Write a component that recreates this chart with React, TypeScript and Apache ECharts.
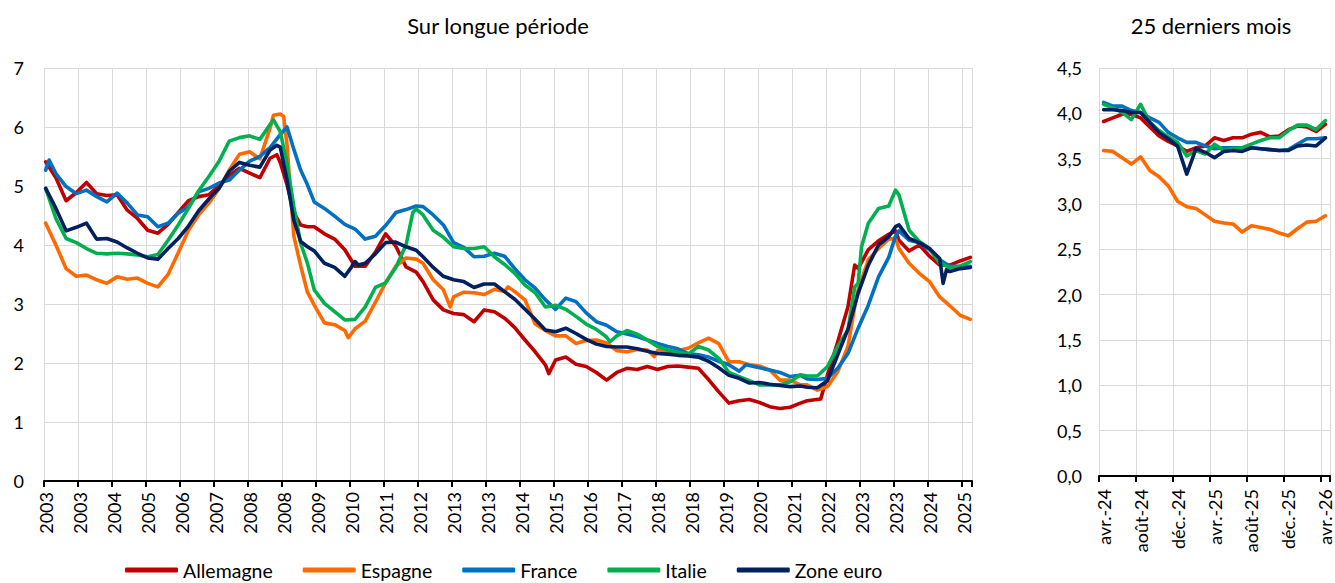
import React, { useEffect, useRef } from "react";
import * as echarts from "echarts";

const FONT = "Lato";

const seriesNames = ["Allemagne", "Espagne", "France", "Italie", "Zone euro"];
const seriesColors = ["#C00000", "#FF6A00", "#0070C0", "#00B050", "#002060"];

// Long period: monthly categories from Jan 2003 (index 0) to Sep 2025 (index 272)
const longStartYear = 2003;
const longMonthCount = 273;
const longTickLabels = [
  "2003", "2003", "2004", "2005", "2006", "2007", "2008", "2008", "2009", "2010",
  "2011", "2012", "2013", "2013", "2014", "2015", "2016", "2017", "2018", "2018",
  "2019", "2020", "2021", "2022", "2023", "2023", "2024", "2025",
];

// [month index, rate]
const allemagneLong: [number, number][] = [
  [0, 5.41], [3, 5.14], [6, 4.75], [9, 4.89], [12, 5.06], [15, 4.87], [18, 4.84], [21, 4.85], [24, 4.59], [27, 4.45],
  [30, 4.25], [33, 4.2], [36, 4.35], [39, 4.55], [42, 4.75], [45, 4.82], [48, 4.85], [51, 5.01], [54, 5.18], [57, 5.3],
  [60, 5.22], [63, 5.14], [66, 5.47], [68, 5.53], [69, 5.4], [71, 5.02], [73, 4.55], [75, 4.34], [77, 4.31], [79, 4.31],
  [82, 4.19], [85, 4.1], [88, 3.92], [91, 3.64], [94, 3.64], [97, 3.88], [100, 4.19], [103, 3.98], [106, 3.63], [109, 3.54],
  [111, 3.38], [114, 3.07], [117, 2.9], [120, 2.84], [123, 2.82], [126, 2.7], [129, 2.9], [132, 2.87], [135, 2.76], [138, 2.6],
  [141, 2.39], [144, 2.19], [147, 1.97], [148, 1.82], [150, 2.05], [153, 2.1], [156, 1.98], [159, 1.94], [162, 1.84], [165, 1.71],
  [168, 1.84], [171, 1.91], [174, 1.89], [177, 1.94], [180, 1.89], [183, 1.94], [186, 1.95], [189, 1.93], [192, 1.91], [195, 1.72],
  [198, 1.51], [201, 1.32], [204, 1.36], [207, 1.38], [210, 1.33], [213, 1.26], [216, 1.23], [219, 1.25], [222, 1.32], [224, 1.36],
  [228, 1.39], [230, 1.8], [233, 2.36], [236, 2.95], [238, 3.66], [239, 3.6], [242, 3.92], [245, 4.07], [248, 4.18], [250, 4.24],
  [251, 4.08], [254, 3.9], [257, 4.0], [260, 3.81], [263, 3.66], [266, 3.66], [269, 3.73], [272, 3.79],
];

const espagneLong: [number, number][] = [
  [0, 4.37], [3, 4.0], [6, 3.6], [9, 3.47], [12, 3.49], [15, 3.41], [18, 3.35], [21, 3.46], [24, 3.42], [27, 3.44],
  [30, 3.35], [33, 3.29], [36, 3.5], [39, 3.87], [42, 4.25], [45, 4.51], [48, 4.71], [51, 4.96], [54, 5.27], [57, 5.54],
  [60, 5.58], [63, 5.46], [66, 5.98], [67, 6.2], [69, 6.22], [70, 6.18], [71, 5.7], [72, 4.9], [73, 4.15], [75, 3.65],
  [77, 3.2], [79, 2.98], [82, 2.68], [85, 2.65], [88, 2.55], [89, 2.43], [91, 2.58], [94, 2.71], [97, 3.03], [100, 3.36],
  [103, 3.64], [106, 3.78], [109, 3.76], [111, 3.69], [114, 3.41], [117, 3.24], [119, 2.95], [120, 3.12], [123, 3.2], [126, 3.19],
  [129, 3.16], [132, 3.25], [135, 3.21], [136, 3.29], [138, 3.21], [141, 3.07], [144, 2.66], [147, 2.55], [150, 2.46], [153, 2.46],
  [156, 2.33], [159, 2.38], [162, 2.39], [165, 2.34], [168, 2.21], [171, 2.19], [174, 2.23], [177, 2.22], [179, 2.11], [180, 2.21],
  [183, 2.19], [186, 2.21], [189, 2.25], [192, 2.34], [195, 2.42], [198, 2.33], [201, 2.02], [204, 2.02], [207, 1.97], [210, 1.95],
  [213, 1.88], [216, 1.71], [219, 1.71], [222, 1.63], [224, 1.63], [227, 1.54], [230, 1.6], [233, 1.85], [236, 2.28], [238, 2.95],
  [239, 3.24], [242, 3.75], [245, 3.94], [248, 4.1], [250, 4.11], [251, 3.94], [254, 3.69], [257, 3.52], [260, 3.38], [263, 3.12],
  [266, 2.97], [269, 2.81], [272, 2.74],
];

const franceLong: [number, number][] = [
  [0, 5.27], [1, 5.44], [3, 5.21], [6, 4.99], [9, 4.87], [12, 4.93], [15, 4.82], [18, 4.73], [21, 4.88], [24, 4.71],
  [27, 4.51], [30, 4.48], [33, 4.31], [36, 4.37], [39, 4.54], [42, 4.65], [45, 4.9], [48, 4.96], [51, 5.05], [54, 5.1],
  [57, 5.27], [60, 5.42], [63, 5.5], [66, 5.65], [69, 5.87], [71, 6.0], [73, 5.62], [75, 5.27], [77, 5.02], [79, 4.73],
  [82, 4.62], [85, 4.49], [88, 4.35], [91, 4.27], [94, 4.1], [97, 4.15], [100, 4.33], [103, 4.55], [106, 4.6], [109, 4.66],
  [111, 4.65], [114, 4.51], [117, 4.34], [120, 4.04], [123, 3.96], [126, 3.8], [129, 3.81], [132, 3.86], [135, 3.81], [138, 3.6],
  [141, 3.41], [144, 3.27], [147, 3.07], [150, 2.91], [153, 3.1], [156, 3.04], [159, 2.85], [162, 2.7], [165, 2.64], [168, 2.53],
  [171, 2.49], [174, 2.45], [177, 2.39], [180, 2.33], [183, 2.28], [186, 2.24], [189, 2.16], [192, 2.14], [195, 2.1], [198, 2.03],
  [201, 1.97], [204, 1.86], [206, 1.97], [210, 1.92], [213, 1.88], [216, 1.84], [219, 1.77], [222, 1.79], [224, 1.73], [227, 1.72],
  [230, 1.74], [233, 1.91], [236, 2.16], [239, 2.59], [242, 2.98], [245, 3.46], [248, 3.79], [250, 4.15], [251, 4.24], [254, 4.08],
  [257, 4.04], [260, 3.92], [263, 3.75], [266, 3.64], [269, 3.64], [272, 3.64],
];

const italieLong: [number, number][] = [
  [0, 4.96], [3, 4.45], [6, 4.11], [9, 4.04], [12, 3.94], [15, 3.86], [18, 3.85], [21, 3.86], [24, 3.85], [27, 3.83],
  [30, 3.8], [33, 3.84], [36, 4.08], [39, 4.34], [42, 4.62], [45, 4.92], [48, 5.16], [51, 5.42], [54, 5.76], [57, 5.82],
  [60, 5.85], [63, 5.79], [66, 6.04], [67, 6.12], [69, 5.92], [71, 5.38], [73, 4.65], [75, 4.03], [77, 3.69], [79, 3.24],
  [82, 3.01], [85, 2.87], [88, 2.73], [91, 2.74], [94, 2.95], [97, 3.28], [100, 3.36], [103, 3.62], [106, 4.0], [108, 4.55],
  [109, 4.61], [111, 4.51], [114, 4.25], [117, 4.13], [120, 3.97], [123, 3.94], [126, 3.94], [129, 3.97], [132, 3.8], [135, 3.67],
  [138, 3.52], [141, 3.32], [144, 3.19], [147, 2.95], [150, 2.98], [153, 2.91], [156, 2.79], [159, 2.66], [162, 2.57], [165, 2.44],
  [166, 2.36], [168, 2.46], [171, 2.55], [174, 2.49], [177, 2.39], [180, 2.28], [183, 2.22], [186, 2.18], [189, 2.15], [192, 2.28],
  [195, 2.22], [198, 2.08], [201, 1.84], [204, 1.77], [207, 1.7], [210, 1.63], [213, 1.63], [216, 1.63], [219, 1.68], [222, 1.8],
  [224, 1.78], [227, 1.78], [230, 1.94], [233, 2.28], [236, 2.56], [238, 3.29], [239, 3.35], [240, 3.97], [242, 4.37], [245, 4.62],
  [248, 4.66], [250, 4.93], [251, 4.85], [254, 4.25], [257, 4.06], [260, 3.94], [263, 3.69], [266, 3.62], [269, 3.64], [272, 3.72],
];

const zoneEuroLong: [number, number][] = [
  [0, 4.96], [3, 4.62], [6, 4.24], [9, 4.3], [12, 4.37], [15, 4.1], [18, 4.11], [21, 4.05], [24, 3.95], [27, 3.86],
  [30, 3.78], [33, 3.76], [36, 3.94], [39, 4.11], [42, 4.32], [45, 4.58], [48, 4.78], [51, 4.96], [54, 5.25], [57, 5.4],
  [60, 5.35], [63, 5.32], [66, 5.61], [68, 5.69], [69, 5.66], [71, 5.1], [73, 4.42], [75, 4.06], [77, 3.97], [79, 3.9],
  [82, 3.69], [85, 3.62], [88, 3.47], [90, 3.63], [91, 3.72], [92, 3.66], [94, 3.69], [97, 3.85], [100, 4.04], [103, 4.05],
  [106, 3.97], [109, 3.91], [111, 3.8], [114, 3.62], [117, 3.47], [120, 3.41], [123, 3.38], [126, 3.28], [129, 3.34], [132, 3.34],
  [135, 3.21], [138, 3.08], [141, 2.91], [144, 2.74], [147, 2.56], [150, 2.53], [153, 2.59], [156, 2.5], [159, 2.4], [162, 2.32],
  [165, 2.28], [168, 2.27], [171, 2.27], [174, 2.24], [177, 2.2], [180, 2.16], [183, 2.15], [186, 2.13], [189, 2.12], [192, 2.1],
  [195, 2.03], [198, 1.92], [201, 1.79], [204, 1.74], [207, 1.66], [210, 1.67], [213, 1.64], [216, 1.62], [219, 1.6], [222, 1.61],
  [224, 1.59], [227, 1.58], [230, 1.7], [233, 2.14], [236, 2.57], [239, 3.18], [242, 3.66], [245, 4.0], [248, 4.14], [250, 4.31],
  [251, 4.34], [254, 4.11], [257, 4.04], [260, 3.94], [263, 3.77], [264, 3.35], [265, 3.58], [266, 3.55], [269, 3.6], [272, 3.62],
];

// Last 25 months
const recentMonths = [
  "avr.-24", "mai-24", "juin-24", "juil.-24", "août-24", "sept.-24", "oct.-24", "nov.-24", "déc.-24",
  "janv.-25", "févr.-25", "mars-25", "avr.-25", "mai-25", "juin-25", "juil.-25", "août-25", "sept.-25",
  "oct.-25", "nov.-25", "déc.-25", "janv.-26", "févr.-26", "mars-26", "avr.-26",
];
const allemagneRecent = [3.91, 3.95, 3.99, 3.99, 3.95, 3.85, 3.75, 3.69, 3.64, 3.58, 3.62, 3.64, 3.73, 3.7, 3.73, 3.73, 3.77, 3.79, 3.74, 3.75, 3.82, 3.86, 3.85, 3.8, 3.88];
const espagneRecent = [3.59, 3.58, 3.51, 3.44, 3.52, 3.37, 3.3, 3.2, 3.03, 2.97, 2.95, 2.88, 2.81, 2.79, 2.78, 2.69, 2.76, 2.74, 2.72, 2.68, 2.65, 2.73, 2.8, 2.81, 2.87];
const franceRecent = [4.12, 4.08, 4.08, 4.03, 4.01, 3.95, 3.9, 3.79, 3.73, 3.68, 3.68, 3.64, 3.61, 3.62, 3.62, 3.62, 3.62, 3.61, 3.6, 3.59, 3.6, 3.66, 3.72, 3.72, 3.73];
const italieRecent = [4.1, 4.06, 4.01, 3.93, 4.1, 3.9, 3.81, 3.74, 3.68, 3.53, 3.59, 3.55, 3.66, 3.59, 3.61, 3.62, 3.66, 3.7, 3.73, 3.73, 3.81, 3.87, 3.87, 3.82, 3.92];
const zoneEuroRecent = [4.04, 4.04, 4.03, 4.01, 4.01, 3.9, 3.79, 3.72, 3.64, 3.33, 3.61, 3.57, 3.51, 3.58, 3.59, 3.58, 3.62, 3.61, 3.6, 3.59, 3.59, 3.64, 3.65, 3.64, 3.73];

const longData = [allemagneLong, espagneLong, franceLong, italieLong, zoneEuroLong];
const recentData = [allemagneRecent, espagneRecent, franceRecent, italieRecent, zoneEuroRecent];

const GRID_COLOR = "#d9d9d9";
const TEXT_COLOR = "#000000";

export default function App() {
  const ref = useRef<HTMLDivElement>(null);

  useEffect(() => {
    if (!ref.current) return;
    const chart = echarts.init(ref.current, undefined, { renderer: "svg" });

    const longMonths: string[] = [];
    for (let i = 0; i < longMonthCount; i++) {
      const y = longStartYear + Math.floor(i / 12);
      const m = (i % 12) + 1;
      longMonths.push(`${y}-${m < 10 ? "0" + m : m}`);
    }

    const lineSeries = (name: string, color: string, idx: number, data: any[]) => ({
      name,
      type: "line",
      xAxisIndex: idx,
      yAxisIndex: idx,
      data,
      symbol: "none",
      showSymbol: false,
      lineStyle: { color, width: 3.6, cap: "round", join: "round" },
      itemStyle: { color },
      emphasis: { disabled: true },
    });

    const series: any[] = [];
    seriesNames.forEach((n, i) => series.push(lineSeries(n, seriesColors[i], 0, longData[i])));
    seriesNames.forEach((n, i) => series.push(lineSeries(n, seriesColors[i], 1, recentData[i])));

    const commaFmt = (v: number) => v.toFixed(1).replace(".", ",");

    chart.setOption({
      animation: false,
      textStyle: { fontFamily: FONT },
      graphic: [
        {
          type: "text",
          x: 498,
          y: 25,
          style: {
            text: "Sur longue période",
            fill: TEXT_COLOR,
            font: `22px ${FONT}`,
            textAlign: "center",
            textVerticalAlign: "middle",
          },
        },
        {
          type: "text",
          x: 1211,
          y: 25,
          style: {
            text: "25 derniers mois",
            fill: TEXT_COLOR,
            font: `22px ${FONT}`,
            textAlign: "center",
            textVerticalAlign: "middle",
          },
        },
      ],
      legend: {
        data: seriesNames,
        left: 125,
        top: 559,
        padding: 0,
        itemWidth: 53,
        itemHeight: 5,
        itemGap: 30,
        icon: "roundRect",
        textStyle: { fontSize: 19.5, lineHeight: 22, color: TEXT_COLOR, fontFamily: FONT },
      },
      grid: [
        { left: 44, top: 68, width: 928, height: 413, containLabel: false },
        { left: 1099, top: 68, width: 231, height: 408, containLabel: false },
      ],
      xAxis: [
        {
          type: "category",
          gridIndex: 0,
          data: longMonths,
          boundaryGap: true,
          axisLine: { show: true, lineStyle: { color: "#000", width: 2 } },
          axisTick: { show: true, interval: 9, length: 6, lineStyle: { color: "#000", width: 2 } },
          axisLabel: {
            interval: 9,
            rotate: 90,
            margin: 11,
            fontSize: 18,
            color: TEXT_COLOR,
            fontFamily: FONT,
            formatter: (_v: string, i: number) => longTickLabels[Math.round(i / 10)] ?? "",
          },
          splitLine: { show: true, interval: 9, lineStyle: { color: GRID_COLOR, width: 1 } },
        },
        {
          type: "category",
          gridIndex: 1,
          data: recentMonths,
          boundaryGap: true,
          axisLine: { show: true, lineStyle: { color: "#000", width: 2 } },
          axisTick: { show: true, interval: 3, length: 6, lineStyle: { color: "#000", width: 2 } },
          axisLabel: {
            interval: 3,
            rotate: 90,
            margin: 13,
            fontSize: 18,
            color: TEXT_COLOR,
            fontFamily: FONT,
          },
          splitLine: { show: true, interval: 3, lineStyle: { color: GRID_COLOR, width: 1 } },
        },
      ],
      yAxis: [
        {
          type: "value",
          gridIndex: 0,
          min: 0,
          max: 7,
          interval: 1,
          axisLine: { show: false },
          axisTick: { show: false },
          axisLabel: { margin: 20, fontSize: 18, color: TEXT_COLOR, fontFamily: FONT },
          splitLine: { show: true, lineStyle: { color: GRID_COLOR, width: 1 } },
        },
        {
          type: "value",
          gridIndex: 1,
          min: 0,
          max: 4.5,
          interval: 0.5,
          axisLine: { show: false },
          axisTick: { show: false },
          axisLabel: { margin: 17, fontSize: 18, color: TEXT_COLOR, fontFamily: FONT, formatter: commaFmt },
          splitLine: { show: true, lineStyle: { color: GRID_COLOR, width: 1 } },
        },
      ],
      series,
    });

    return () => chart.dispose();
  }, []);

  return (
    <div
      ref={ref}
      style={{ position: "fixed", left: 0, top: 0, width: 1335, height: 583, background: "#fff" }}
    />
  );
}
